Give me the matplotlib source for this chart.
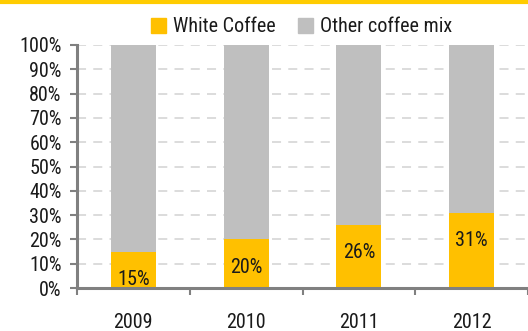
import matplotlib
matplotlib.use("Agg")
import matplotlib.pyplot as plt
from matplotlib import font_manager
from matplotlib.patches import Rectangle
from matplotlib.lines import Line2D

years = ["2009", "2010", "2011", "2012"]
white_coffee = [15, 20, 26, 31]
other_mix = [85, 80, 74, 69]
y_ticks = [0, 10, 20, 30, 40, 50, 60, 70, 80, 90, 100]
series_names = ["White Coffee", "Other coffee mix"]

YELLOW = "#FFC000"
GREY = "#BFBFBF"
AXIS = "#808080"
INK = "#1a1a1a"

installed = {f.name for f in font_manager.fontManager.ttflist}
narrow = [n for n in ("Roboto Condensed", "Archivo Narrow", "Pragati Narrow") if n in installed]
plt.rcParams["font.family"] = narrow[:1] + ["Liberation Sans", "DejaVu Sans"]
FS = 14.5

fig = plt.figure(figsize=(5.28, 3.31), dpi=100)
ax = fig.add_axes([77 / 528, 1 - 288 / 331, 451 / 528, 243 / 331])

x = list(range(len(years)))
ax.bar(x, white_coffee, width=0.4, color=YELLOW, zorder=3)
ax.bar(x, other_mix, bottom=white_coffee, width=0.4, color=GREY, zorder=3)

for xi, v in zip(x, white_coffee):
    ax.text(xi, v - 11.5, f"{v}%", ha="center", va="center", fontsize=FS,
            color=INK, zorder=4)

ax.set_xlim(-0.5, len(years) - 0.5)
ax.set_ylim(0, 100)
ax.set_yticks(y_ticks)
ax.set_yticklabels([f"{t}%" for t in y_ticks], fontsize=FS, color=INK)
ax.yaxis.grid(True, linestyle=(0, (5, 4)), color="#D9D9D9", linewidth=1.3, zorder=0)
ax.set_axisbelow(True)

ax.set_xticks(x)
ax.set_xticklabels(years, fontsize=FS, color=INK)
ax.tick_params(axis="x", length=0, pad=18)
ax.set_xticks([i - 0.5 for i in range(len(years) + 1)], minor=True)
ax.tick_params(axis="x", which="minor", length=5, width=1.5, color=AXIS, direction="out")
ax.tick_params(axis="y", length=5, width=1.5, color=AXIS, direction="out", pad=6)

for side in ("top", "right"):
    ax.spines[side].set_visible(False)
for side in ("left", "bottom"):
    ax.spines[side].set_color(AXIS)
    ax.spines[side].set_linewidth(2.2)
ax.spines["bottom"].set_zorder(5)

handles = [Rectangle((0, 0), 1, 1, color=YELLOW), Rectangle((0, 0), 1, 1, color=GREY)]
fig.legend(handles, series_names, loc="center", bbox_to_anchor=(302 / 528, 1 - 27 / 331),
           ncol=2, frameon=False, fontsize=FS, handlelength=0.75, handleheight=0.75,
           handletextpad=0.35, columnspacing=1.1, labelcolor=INK)

fig.add_artist(Line2D([0, 1], [1 - 1.5 / 331, 1 - 1.5 / 331], color="#FFCC00",
                      linewidth=3, transform=fig.transFigure))

fig.savefig("out.png", dpi=100)
